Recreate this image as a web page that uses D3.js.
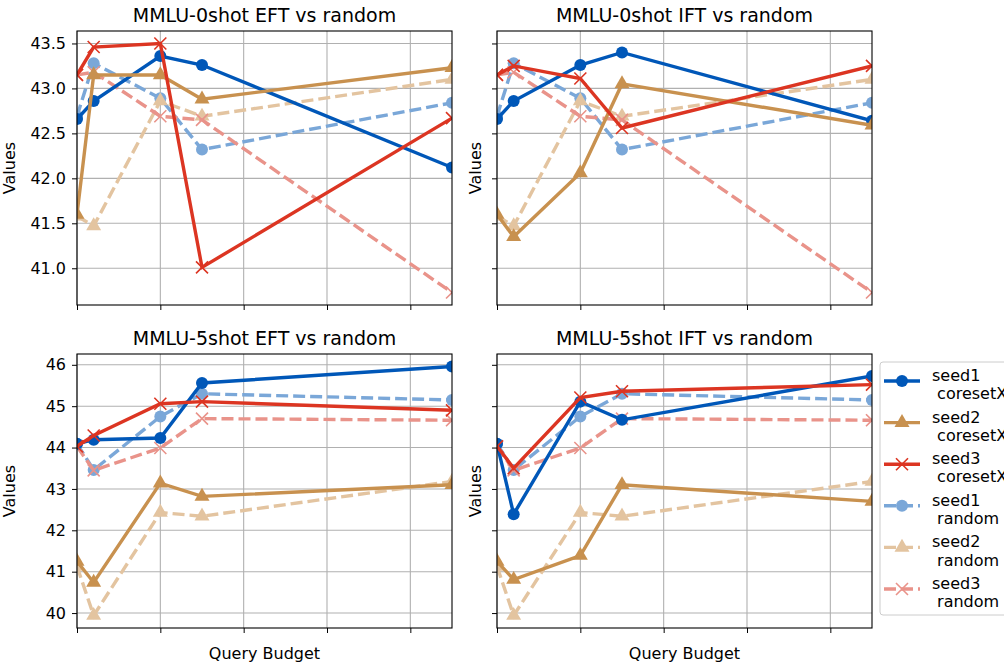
<!DOCTYPE html>
<html>
<head>
<meta charset="utf-8">
<script src="https://cdn.jsdelivr.net/npm/d3@7"></script>
<style>
  body { margin: 0; background: #fff; }
  svg { font-family: "DejaVu Sans", sans-serif; }
</style>
</head>
<body>
<div id="chart"></div>
<script>
// Query budgets (x positions) and tick values
const budgets = [0, 200, 1000, 1500, 4500];
const xTicks = [0, 1000, 2000, 3000, 4000];

const seriesNames = ["seed1\n coresetX", "seed2\n coresetX", "seed3\n coresetX",
                     "seed1\n random", "seed2\n random", "seed3\n random"];

// random baselines are shared between EFT and IFT panels
const random0shot = [
  [42.69, 43.28, 42.89, 42.32, 42.84],
  [41.58, 41.47, 42.86, 42.69, 43.10],
  [43.15, 43.18, 42.69, 42.65, 40.73]
];
const random5shot = [
  [44.09, 43.46, 44.75, 45.30, 45.15],
  [41.13, 39.94, 42.43, 42.34, 43.18],
  [44.03, 43.45, 43.99, 44.70, 44.66]
];

const eft0shot = [
  [42.66, 42.86, 43.36, 43.26, 42.12],
  [41.60, 43.15, 43.15, 42.88, 43.23],
  [43.15, 43.46, 43.50, 41.01, 42.67]
];
const ift0shot = [
  [42.66, 42.86, 43.26, 43.40, 42.64],
  [41.60, 41.35, 42.06, 43.05, 42.59],
  [43.15, 43.25, 43.11, 42.56, 43.25]
];
const eft5shot = [
  [44.09, 44.19, 44.23, 45.56, 45.96],
  [41.25, 40.74, 43.14, 42.82, 43.10],
  [44.03, 44.29, 45.06, 45.11, 44.90]
];
const ift5shot = [
  [44.09, 42.39, 45.11, 44.67, 45.73],
  [41.25, 40.81, 41.39, 43.10, 42.70],
  [44.03, 43.50, 45.21, 45.36, 45.52]
];

const yTicks0 = [41.0, 41.5, 42.0, 42.5, 43.0, 43.5];
const yTicks5 = [40, 41, 42, 43, 44, 45, 46];

const colors = ["#0057b8", "#c8914f", "#dc3522", "#7aa7d8", "#e3c4a0", "#e9938a"];
const markers = ["circle", "triangle", "cross", "circle", "triangle", "cross"];

const width = 1004, height = 664;
const svg = d3.select("#chart").append("svg")
  .attr("width", width).attr("height", height);

const panels = [
  { title: "MMLU-0shot EFT vs random", core: eft0shot, rand: random0shot, ticks: yTicks0, labels: true,  x: 77,  y: 31,  xlab: false },
  { title: "MMLU-0shot IFT vs random", core: ift0shot, rand: random0shot, ticks: yTicks0, labels: false, x: 497, y: 31,  xlab: false },
  { title: "MMLU-5shot EFT vs random", core: eft5shot, rand: random5shot, ticks: yTicks5, labels: true,  x: 77,  y: 354, xlab: true },
  { title: "MMLU-5shot IFT vs random", core: ift5shot, rand: random5shot, ticks: yTicks5, labels: false, x: 497, y: 354, xlab: true }
];
const pw = 375, ph = 274;

function drawMarker(g, type, color, size) {
  if (type === "circle") {
    g.append("circle").attr("r", size).attr("fill", color);
  } else if (type === "triangle") {
    g.append("path").attr("d", d3.symbol(d3.symbolTriangle, size * size * 2.7)()).attr("fill", color);
  } else {
    const s = size;
    g.append("path").attr("d", `M${-s},${-s}L${s},${s}M${-s},${s}L${s},${-s}`)
      .attr("stroke", color).attr("stroke-width", 1.6).attr("fill", "none");
  }
}

// y domains from matplotlib-like 5% margins over the shared row data
function rowDomain(sets) {
  const all = sets.flat(2);
  const lo = d3.min(all), hi = d3.max(all), pad = (hi - lo) * 0.05;
  return [lo - pad, hi + pad];
}
const dom0 = rowDomain([eft0shot, ift0shot, random0shot]);
const dom5 = rowDomain([eft5shot, ift5shot, random5shot]);

panels.forEach((p, i) => {
  const g = svg.append("g").attr("transform", `translate(${p.x},${p.y})`);
  const x = d3.scaleLinear().domain([0, 4500]).range([0, pw]);
  const y = d3.scaleLinear().domain(i < 2 ? dom0 : dom5).range([ph, 0]);

  const clipId = "clip" + i;
  g.append("clipPath").attr("id", clipId).append("rect")
    .attr("width", pw).attr("height", ph);

  // grid
  g.append("g").selectAll("line").data(xTicks).join("line")
    .attr("x1", d => x(d)).attr("x2", d => x(d)).attr("y1", 0).attr("y2", ph)
    .attr("stroke", "#b0b0b0").attr("stroke-width", 1.1);
  g.append("g").selectAll("line").data(p.ticks).join("line")
    .attr("x1", 0).attr("x2", pw).attr("y1", d => y(d)).attr("y2", d => y(d))
    .attr("stroke", "#b0b0b0").attr("stroke-width", 1.1);

  // axes
  const xAxis = g.append("g").attr("transform", `translate(0,${ph})`)
    .call(d3.axisBottom(x).tickValues(xTicks).tickFormat("").tickSize(5).tickSizeOuter(0));
  const yAxis = g.append("g")
    .call(d3.axisLeft(y).tickValues(p.ticks).tickSize(5).tickSizeOuter(0)
      .tickFormat(p.labels ? (i < 2 ? d3.format(".1f") : d3.format("d")) : ""));
  [xAxis, yAxis].forEach(a => {
    a.select(".domain").remove();
    a.selectAll("line").attr("stroke", "#000").attr("stroke-width", 1);
    a.selectAll("text").attr("font-size", 16).attr("fill", "#000")
      .attr("font-family", "DejaVu Sans");
  });
  yAxis.selectAll("text").attr("x", -11);

  const line = d3.line().x((d, j) => x(budgets[j])).y(d => y(d));
  const data = p.core.concat(p.rand);
  // draw random (dashed) first, then coresetX on top
  const order = [3, 4, 5, 0, 1, 2];
  const plot = g.append("g").attr("clip-path", `url(#${clipId})`);
  order.forEach(k => {
    const dashed = k >= 3;
    plot.append("path").datum(data[k])
      .attr("d", line).attr("fill", "none")
      .attr("stroke", colors[k]).attr("stroke-width", 3.4)
      .attr("stroke-dasharray", dashed ? "12,5" : null);
    data[k].forEach((v, j) => {
      const mg = plot.append("g").attr("transform", `translate(${x(budgets[j])},${y(v)})`);
      drawMarker(mg, markers[k], colors[k], 6);
    });
  });

  g.append("rect").attr("width", pw).attr("height", ph)
    .attr("fill", "none").attr("stroke", "#000").attr("stroke-width", 1.1);

  g.append("text").attr("x", pw / 2).attr("y", -9).attr("text-anchor", "middle")
    .attr("font-size", 19).text(p.title);

  g.append("text").attr("transform", `translate(${p.labels ? -62 : -16},${ph / 2}) rotate(-90)`)
    .attr("text-anchor", "middle").attr("font-size", 16).text("Values");

  if (p.xlab) {
    g.append("text").attr("x", pw / 2).attr("y", ph + 31).attr("text-anchor", "middle")
      .attr("font-size", 16).text("Query Budget");
  }
});

// legend (extends past the right edge, as in the original figure)
const lg = svg.append("g").attr("transform", "translate(880,362)");
lg.append("rect").attr("width", 140).attr("height", 253).attr("rx", 3)
  .attr("fill", "#fff").attr("stroke", "#cccccc").attr("stroke-width", 1);
seriesNames.forEach((name, k) => {
  const row = lg.append("g").attr("transform", `translate(0,${13 + k * 41.6})`);
  row.append("line").attr("x1", 4).attr("x2", 40).attr("y1", 6).attr("y2", 6)
    .attr("stroke", colors[k]).attr("stroke-width", 3.4)
    .attr("stroke-dasharray", k >= 3 ? "12,5" : null);
  const mg = row.append("g").attr("transform", "translate(22,6)");
  drawMarker(mg, markers[k], colors[k], 6);
  const lines = name.split("\n");
  lines.forEach((t, j) => {
    row.append("text").attr("x", 52).attr("y", 6 + j * 18.3)
      .attr("font-size", 16).attr("xml:space", "preserve").style("white-space", "pre")
      .text(t);
  });
});
</script>
</body>
</html>
